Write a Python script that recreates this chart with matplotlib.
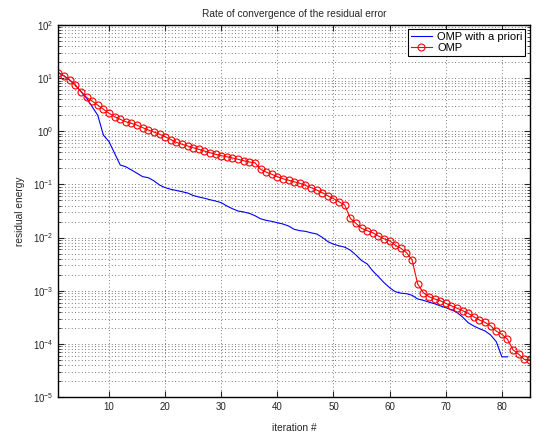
import matplotlib
matplotlib.use("Agg")
import matplotlib.pyplot as plt
import numpy as np

plt.rcParams['font.family'] = ['Liberation Sans', 'DejaVu Sans']

# residual energy per iteration
omp_prior = [12.6, 11.0, 9.2, 7.4, 5.6, 4.2, 2.9, 2.0, 0.85, 0.64,
             0.385, 0.232, 0.215, 0.187, 0.162, 0.140, 0.134, 0.117, 0.0975, 0.087,
             0.081, 0.077, 0.073, 0.069, 0.062, 0.058, 0.055, 0.0515, 0.0487, 0.0453,
             0.0393, 0.0349, 0.0316, 0.0303, 0.0286, 0.0258, 0.0226, 0.0211, 0.0202, 0.0190,
             0.0180, 0.0165, 0.0143, 0.0135, 0.0131, 0.0123, 0.0117, 0.0101, 0.0084, 0.0075,
             0.0070, 0.0066, 0.0058, 0.0047, 0.0037, 0.0032, 0.00235, 0.00184, 0.00142, 0.00114,
             0.00096, 0.0009, 0.00088, 0.00082, 0.00070, 0.00066, 0.00061, 0.00057, 0.00052, 0.00048,
             0.00044, 0.00039, 0.00032, 0.00025, 0.000217, 0.000193, 0.000175, 0.000147, 0.000110, 5.7e-5,
             5.7e-5]

omp = [12.6, 11.0, 9.2, 7.4, 5.6, 4.35, 3.7, 3.1, 2.6, 2.18,
       1.88, 1.68, 1.51, 1.41, 1.30, 1.17, 1.06, 0.97, 0.88, 0.79,
       0.70, 0.62, 0.57, 0.53, 0.49, 0.458, 0.425, 0.395, 0.369, 0.347,
       0.332, 0.314, 0.297, 0.279, 0.264, 0.256, 0.193, 0.171, 0.155, 0.140,
       0.128, 0.120, 0.112, 0.105, 0.096, 0.087, 0.0785, 0.070, 0.061, 0.054,
       0.047, 0.041, 0.023, 0.0185, 0.0149, 0.0135, 0.0123, 0.0107, 0.0095, 0.0087,
       0.0072, 0.0063, 0.0052, 0.0038, 0.00134, 0.00092, 0.00077, 0.00070, 0.00065, 0.00058,
       0.00052, 0.00047, 0.00042, 0.000375, 0.000324, 0.000281, 0.000254, 0.000219, 0.000174, 0.000151,
       0.000122, 7.7e-5, 6.4e-5, 5.1e-5, 5.0e-5]

it_prior = np.arange(1, len(omp_prior) + 1)
it_omp = np.arange(1, len(omp) + 1)

fig = plt.figure(figsize=(5.38, 4.36), dpi=100)
ax = fig.add_axes([0.1087, 0.0894, 0.8763, 0.8533])

ax.semilogy(it_prior, omp_prior, color='blue', lw=0.8, label='OMP with a priori')
ax.semilogy(it_omp, omp, color='red', lw=0.8, marker='o', ms=5,
            mfc='none', mec='red', mew=0.8, label='OMP')

ax.set_xlim(1, 85)
ax.set_ylim(1e-5, 1e2)
ax.set_xticks(np.arange(10, 81, 10))

dots = (0, (1, 3))
ax.grid(True, which='major', ls=dots, color='0.3', lw=0.6)
ax.grid(True, which='minor', axis='y', ls=dots, color='0.3', lw=0.6)
ax.tick_params(which='both', direction='in', top=True, right=True,
               labelsize=7, colors='0.15')
ax.tick_params(which='major', length=4)
ax.tick_params(which='minor', length=2)
ax.tick_params(axis='x', which='minor', bottom=False, top=False)
for s in ax.spines.values():
    s.set_linewidth(1.0)

ax.set_title('Rate of convergence of the residual error', fontsize=7.3, color='0.15')
ax.set_xlabel('iteration #', fontsize=7.3, color='0.15', labelpad=8)
ax.set_ylabel('residual energy', fontsize=7.3, color='0.15', labelpad=6)

leg = ax.legend(loc='upper right', fontsize=8, fancybox=False, framealpha=1,
                edgecolor='black', borderaxespad=0.4, handlelength=1.9,
                labelspacing=0.1, borderpad=0.25, handletextpad=0.5)
leg.get_frame().set_linewidth(0.8)

fig.savefig('out.png', dpi=100)
